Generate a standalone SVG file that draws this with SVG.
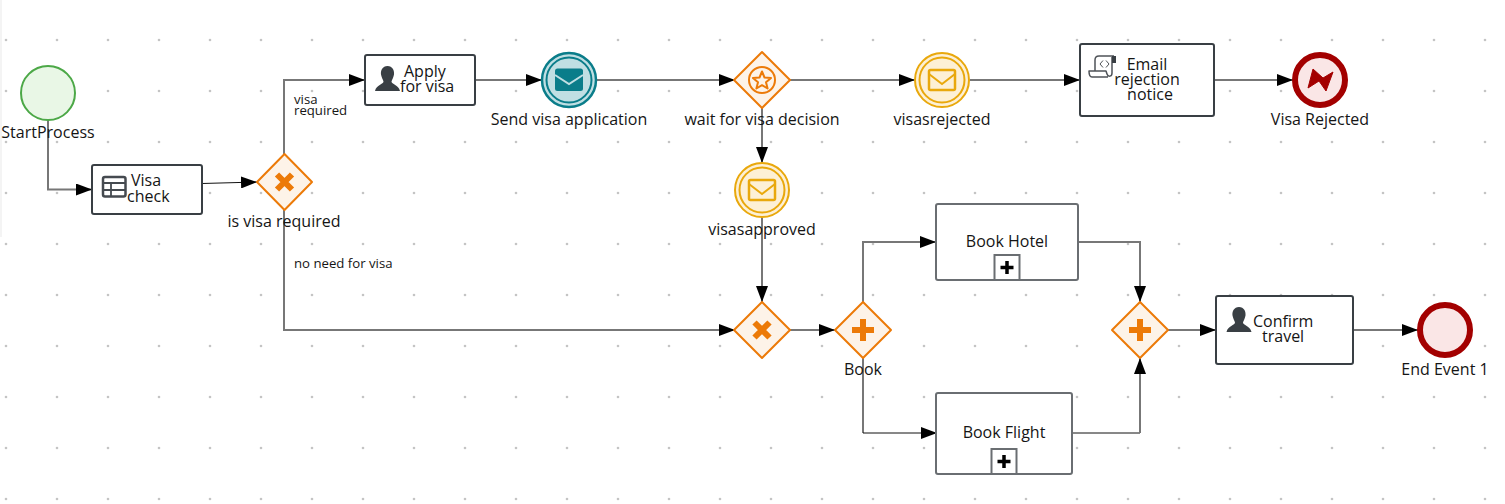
<svg xmlns="http://www.w3.org/2000/svg" width="1505" height="504" viewBox="0 0 1505 504">
<style>
text{font-family:"Open Sans","Noto Sans",sans-serif;font-size:16px;fill:#151515}
.m{text-anchor:middle}
.s{font-size:13.200px}
.task{fill:#fff;stroke:#393f44;stroke-width:2}
.sub{fill:#fff;stroke:#6a6e72;stroke-width:2}
.box{fill:#fff;stroke:#6a6e72;stroke-width:2}
.gw{fill:#fdf3e8;stroke:#ec7a08;stroke-width:2;stroke-linejoin:round}
.gm{fill:none;stroke:#ec7a08;stroke-width:6}
.ev{fill:#fdf0d5;stroke:#e9a80c;stroke-width:2}
.end{fill:#fae6e6;stroke:#a30000;stroke-width:6}
.c{fill:none;stroke:#777;stroke-width:2}
.k{fill:none;stroke:#111;stroke-width:1}
.ic{fill:#393f44}
</style>
<defs>
<pattern id="grid" x="3" y="37" width="51" height="51" patternUnits="userSpaceOnUse"><circle cx="3" cy="3" r="1.300" fill="#c4c4c4"/></pattern>
<marker id="a" markerUnits="userSpaceOnUse" markerWidth="16" markerHeight="12" refX="16" refY="6" orient="auto"><path d="M0 0L16 6L0 12Z" fill="#000"/></marker>
<g id="env"><rect x="-13" y="-10" width="26" height="20" rx="1.500" fill="none" stroke="#e9a80c" stroke-width="2.500"/><path d="M-13 -6L0 4L13 -6" fill="none" stroke="#e9a80c" stroke-width="2"/></g>
<g id="user"><path class="ic" d="M0 -12.500C-5 -12.500-7 -8-6.500 -4C-6 -1-4.500 1-4 3C-4 6-11 6-12.500 12.500L12.500 12.500C11 6 4 6 4 3C4.500 1 6 -1 6.500 -4C7 -8 5 -12.500 0 -12.500Z"/></g>
</defs>
<rect width="1505" height="504" fill="#fff"/>
<rect width="2" height="237" fill="#f4f4f4"/>
<rect width="1505" height="504" fill="url(#grid)"/>
<g id="connectors">
<path class="c" d="M48 120V189.500H92" marker-end="url(#a)"/>
<path class="k" d="M202 183.500L257 182" marker-end="url(#a)"/>
<path class="c" d="M284 154V80H365" marker-end="url(#a)"/>
<path class="c" d="M284 210V330H735" marker-end="url(#a)"/>
<path class="c" d="M475 80H542" marker-end="url(#a)"/>
<path class="c" d="M596 80H735" marker-end="url(#a)"/>
<path class="c" d="M790 80H915" marker-end="url(#a)"/>
<path class="c" d="M970 80H1080" marker-end="url(#a)"/>
<path class="c" d="M1214 80H1293" marker-end="url(#a)"/>
<path class="c" d="M762 108V163" marker-end="url(#a)"/>
<path class="c" d="M762 217V302" marker-end="url(#a)"/>
<path class="c" d="M790 330H835" marker-end="url(#a)"/>
<path class="c" d="M863 302V242H936" marker-end="url(#a)"/>
<path class="c" d="M863 358V433"/><path class="k" d="M863 433H937" marker-end="url(#a)"/>
<path class="c" d="M1078 242H1140V302" marker-end="url(#a)"/>
<path class="k" d="M1072 433H1140"/><path class="c" d="M1140 433V358" marker-end="url(#a)"/>
<path class="c" d="M1168 330H1216" marker-end="url(#a)"/>
<path class="c" d="M1353 330H1418" marker-end="url(#a)"/>
</g>
<g id="start"><circle cx="48" cy="93" r="27" fill="#e9f7e6" stroke="#4ca847" stroke-width="2"/><text class="m" x="48" y="138">StartProcess</text></g>
<g id="visa-check"><rect class="task" x="92" y="165" width="110" height="49" rx="2"/>
<rect x="103" y="177" width="22.500" height="19.500" rx="2" fill="none" stroke="#454a50" stroke-width="2.500"/><path d="M103 183H125M103 190H125M111 183V196" stroke="#454a50" stroke-width="1.800" fill="none"/>
<text x="131" y="186">Visa</text><text x="127" y="202">check</text></g>
<g id="is-visa-required"><path class="gw" d="M284.500 154L312 182L284.500 210L257 182Z"/><path class="gm" d="M277 174.500L292 189.500M292 174.500L277 189.500"/><text class="m" x="284" y="227">is visa required</text></g>
<g id="apply"><rect class="task" x="365" y="55" width="110" height="50" rx="2"/><use href="#user" x="387.500" y="78.500"/><text x="404" y="77">Apply</text><text x="400" y="92">for visa</text></g>
<g id="send"><circle cx="569" cy="80" r="27" fill="#c0dfe3" stroke="#0a7d8a" stroke-width="2.500"/><circle cx="569" cy="80" r="22.500" fill="none" stroke="#0a7d8a" stroke-width="2"/><rect x="555" y="68.500" width="28" height="22.500" rx="2.500" fill="#0a7d8a"/><path d="M555 75L569 84L583 75" fill="none" stroke="#c0dfe3" stroke-width="2"/><text class="m" x="569" y="125">Send visa application</text></g>
<g id="wait"><path class="gw" d="M762 52L790 80L762 108L734 80Z"/><circle cx="762" cy="80" r="13" fill="none" stroke="#ec7a08" stroke-width="2"/><path d="M762 71.500L764.500 77.500L771 78L766 82.300L767.600 88.500L762 85.200L756.400 88.500L758 82.300L753 78L759.500 77.500Z" fill="none" stroke="#ec7a08" stroke-width="2" stroke-linejoin="round"/><text class="m" x="762" y="125">wait for visa decision</text></g>
<g id="visasrejected"><circle class="ev" cx="942" cy="80" r="27"/><circle cx="942" cy="80" r="22.500" fill="none" stroke="#e9a80c" stroke-width="2"/><use href="#env" x="942" y="80"/><text class="m" x="942" y="125">visasrejected</text></g>
<g id="email"><rect class="task" x="1080" y="44" width="134" height="72" rx="2"/>
<path d="M1099 56H1114M1112 57V73C1112 77 1108 77 1107 74L1106 71H1089C1089 74 1090 77 1092 77H1108M1099 56C1096 56 1095 58 1095 60V71" fill="none" stroke="#4f5358" stroke-width="1.500" stroke-linejoin="round"/><path d="M1112 56H1116V63H1112Z" fill="#393f44"/><path d="M1103 60.500L1100 64L1103 67.500M1106 60.500L1109 64L1106 67.500" fill="none" stroke="#4f5358" stroke-width="1"/>
<text class="m" x="1147" y="70">Email</text><text class="m" x="1147" y="85">rejection</text><text class="m" x="1150" y="100">notice</text></g>
<g id="visa-rejected"><circle class="end" cx="1320" cy="80" r="25"/><path d="M1308 88L1313 69L1323 78L1333 72L1326 91L1319 81Z" fill="#a30000" stroke="#a30000" stroke-linejoin="round"/><text class="m" x="1320" y="125">Visa Rejected</text></g>
<g id="visasapproved"><circle class="ev" cx="762" cy="190" r="27"/><circle cx="762" cy="190" r="22.500" fill="none" stroke="#e9a80c" stroke-width="2"/><use href="#env" x="762" y="190"/><text class="m" x="762" y="235">visasapproved</text></g>
<g id="merge"><path class="gw" d="M762 302L790 330L762 358L734 330Z"/><path class="gm" d="M754.500 322.500L769.500 337.500M769.500 322.500L754.500 337.500"/></g>
<g id="book"><path class="gw" d="M863 302L891 330L863 358L835 330Z"/><path class="gm" d="M863 319V341M852 330H874"/><text class="m" x="863" y="375">Book</text></g>
<g id="book-hotel"><rect class="sub" x="936" y="204" width="142" height="76" rx="2"/><rect class="box" x="994.500" y="255" width="25" height="25"/><path d="M1007 261V274M1000.500 267.500H1013.500" stroke="#000" stroke-width="3.500" fill="none"/><text class="m" x="1007" y="247">Book Hotel</text></g>
<g id="book-flight"><rect class="sub" x="936" y="393" width="136" height="81" rx="2"/><rect class="box" x="991.500" y="449" width="25" height="25"/><path d="M1004 455V468M997.500 461.500H1010.500" stroke="#000" stroke-width="3.500" fill="none"/><text class="m" x="1004" y="438">Book Flight</text></g>
<g id="join"><path class="gw" d="M1140 302L1168 330L1140 358L1112 330Z"/><path class="gm" d="M1140 319V341M1129 330H1151"/></g>
<g id="confirm"><rect class="task" x="1216" y="296" width="137" height="68" rx="2"/><use href="#user" x="1239" y="319.500"/><text x="1253" y="327">Confirm</text><text x="1262" y="342">travel</text></g>
<g id="end"><circle class="end" cx="1445" cy="330" r="25"/><text class="m" x="1445" y="375">End Event 1</text></g>
<g id="labels"><text class="s" x="294" y="104">visa</text><text class="s" x="294" y="115">required</text><text class="s" x="294" y="268">no need for visa</text></g>
</svg>
